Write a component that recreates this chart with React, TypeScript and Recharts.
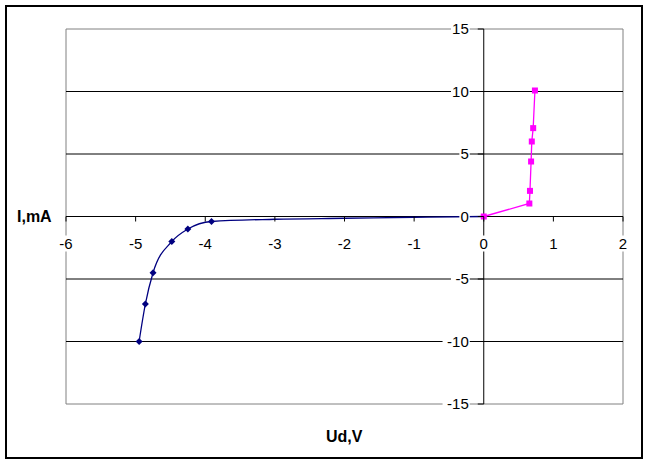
import React from 'react';
import { ScatterChart, Scatter, XAxis, YAxis, ReferenceLine, ReferenceArea } from 'recharts';

// reverse branch (breakdown), navy smooth curve
const reverseU = [-4.95, -4.86, -4.75, -4.48, -4.25, -3.91, -3, -2, -1, 0];
const reverseI = [-10, -7, -4.5, -2, -1, -0.4, -0.22, -0.14, -0.06, 0];
const reverseMarked = 6; // only the measured points carry markers

// forward branch, magenta
const forwardU = [0, 0.655, 0.664, 0.68, 0.69, 0.71, 0.735];
const forwardI = [0, 1.04, 2.05, 4.4, 6.0, 7.07, 10.08];

const xTickValues = [-6, -5, -4, -3, -2, -1, 0, 1, 2];
const yTickValues = [-15, -10, -5, 0, 5, 10, 15];
const gridValues = [-10, -5, 5, 10];

const reverseData = reverseU.map((u, k) => ({ u, i: reverseI[k] }));
const reverseMarkers = reverseData.slice(0, reverseMarked);
const forwardData = forwardU.map((u, k) => ({ u, i: forwardI[k] }));
const xTickData = xTickValues.map((u) => ({ u, i: 0 }));
const yTickData = yTickValues.map((i) => ({ u: 0, i }));

const FONT = '"Liberation Sans", Arial, sans-serif';
const FS = 15;

const textWidth = (s: string) => s.length * 0.56 * FS;

const Diamond = (p: any) => (
  <path
    d={`M${p.cx},${p.cy - 3.5}L${p.cx + 3.5},${p.cy}L${p.cx},${p.cy + 3.5}L${p.cx - 3.5},${p.cy}Z`}
    fill="#000080"
  />
);

const Square = (p: any) => (
  <rect x={p.cx - 3} y={p.cy - 3} width={6} height={6} fill="#FF00FF" />
);

const NoDot = () => <g />;

const XTick = (p: any) => {
  const label = String(p.payload.u);
  const w = textWidth(label);
  return (
    <g>
      <line x1={p.cx} y1={p.cy} x2={p.cx} y2={p.cy + 5} stroke="#000" />
      <rect x={p.cx - w / 2 - 1} y={p.cy + 19} width={w + 2} height={16} fill="#fff" />
      <text x={p.cx} y={p.cy + 32} textAnchor="middle" fontSize={FS} fontFamily={FONT} fill="#000">
        {label}
      </text>
    </g>
  );
};

const YTick = (p: any) => {
  const label = String(p.payload.i);
  const w = textWidth(label);
  return (
    <g>
      <line x1={p.cx - 6} y1={p.cy} x2={p.cx} y2={p.cy} stroke="#000" />
      <rect x={p.cx - 15 - w - 1} y={p.cy - 8} width={w + 2} height={16} fill="#fff" />
      <text x={p.cx - 15} y={p.cy + 5} textAnchor="end" fontSize={FS} fontFamily={FONT} fill="#000">
        {label}
      </text>
    </g>
  );
};

const App: React.FC = () => {
  return (
    <div style={{ position: 'absolute', left: 0, top: 0, width: 648, height: 465, background: '#fff' }}>
      <div
        style={{
          position: 'absolute',
          left: 5,
          top: 5,
          width: 638,
          height: 454,
          border: '2px solid #000',
          boxSizing: 'border-box',
        }}
      />
      <div style={{ position: 'absolute', left: 0, top: 0 }}>
        <ScatterChart width={648} height={465} margin={{ top: 29, right: 25, bottom: 61, left: 66 }}>
          <XAxis type="number" dataKey="u" domain={[-6, 2]} hide />
          <YAxis type="number" dataKey="i" domain={[-15, 15]} hide />
          {gridValues.map((g) => (
            <ReferenceLine key={g} y={g} stroke="#000" strokeWidth={1} />
          ))}
          <ReferenceArea x1={-6} x2={2} y1={-15} y2={15} fill="none" stroke="#808080" strokeWidth={1} />
          <ReferenceLine y={0} stroke="#000" />
          <ReferenceLine x={0} stroke="#000" />
          <Scatter
            data={reverseData}
            fill="#000080"
            line={{ stroke: '#000080', strokeWidth: 1.3 }}
            lineJointType="monotoneX"
            shape={NoDot}
            isAnimationActive={false}
          />
          <Scatter data={reverseMarkers} fill="#000080" shape={Diamond} isAnimationActive={false} />
          <Scatter
            data={forwardData}
            fill="#FF00FF"
            line={{ stroke: '#FF00FF', strokeWidth: 1.3 }}
            shape={Square}
            isAnimationActive={false}
          />
          <Scatter data={xTickData} shape={XTick} isAnimationActive={false} />
          <Scatter data={yTickData} shape={YTick} isAnimationActive={false} />
        </ScatterChart>
      </div>
      <div
        style={{
          position: 'absolute',
          left: 17,
          top: 207,
          fontFamily: FONT,
          fontWeight: 'bold',
          fontSize: 16,
          lineHeight: '20px',
        }}
      >
        I,mA
      </div>
      <div
        style={{
          position: 'absolute',
          left: 326,
          top: 427,
          fontFamily: FONT,
          fontWeight: 'bold',
          fontSize: 16,
          lineHeight: '20px',
        }}
      >
        Ud,V
      </div>
    </div>
  );
};

export default App;
